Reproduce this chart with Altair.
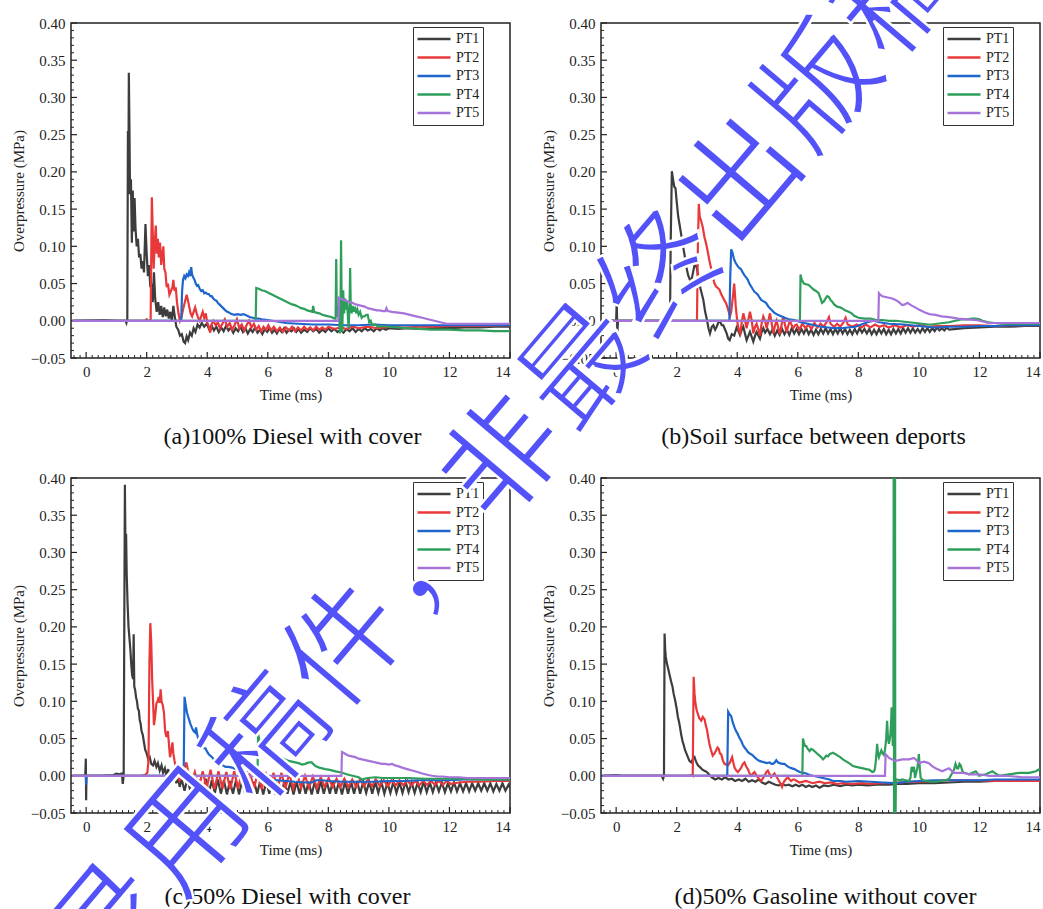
import altair as alt
import pandas as pd

# Sensor names and line colours
SERIES = ["PT1", "PT2", "PT3", "PT4", "PT5"]
COLORS = ["#3d3d3d", "#e8383a", "#1f66cc", "#2e9e5b", "#a673d9"]

# Axis tick values
X_TICKS = [0, 2, 4, 6, 8, 10, 12, 14]
Y_TICKS = [-0.05, 0.0, 0.05, 0.10, 0.15, 0.20, 0.25, 0.30, 0.35, 0.40]
X_MINOR = [round(-0.4 + 0.2 * k, 2) for k in range(73) if round(-0.4 + 0.2 * k, 2) not in X_TICKS]
Y_MINOR = [round(-0.05 + 0.01 * k, 2) for k in range(46) if k % 5 != 0]

TITLES = [
    "(a)100% Diesel with cover",
    "(b)Soil surface between deports",
    "(c)50% Diesel with cover",
    "(d)50% Gasoline without cover",
]

# ---------------- (a) 100% diesel with cover: (time ms, overpressure MPa)
A_PT1 = [(-0.45, 0.0), (0.6, 0.001), (1.0, 0.0), (1.30, 0.0), (1.33, -0.003), (1.36, 0.002), (1.38, 0.255),
         (1.395, 0.17), (1.41, 0.333), (1.43, 0.26), (1.45, 0.17), (1.48, 0.19), (1.51, 0.105), (1.54, 0.175),
         (1.57, 0.12), (1.60, 0.165), (1.63, 0.125), (1.67, 0.10), (1.71, 0.11), (1.75, 0.085), (1.79, 0.09),
         (1.83, 0.07), (1.87, 0.08), (1.91, 0.065), (1.96, 0.13), (2.00, 0.09), (2.04, 0.06), (2.08, 0.075),
         (2.12, 0.045), (2.16, 0.05), (2.20, 0.025), (2.24, 0.065), (2.28, 0.03), (2.33, 0.012), (2.38, 0.025),
         (2.43, 0.008), (2.48, 0.02), (2.53, 0.005), (2.58, 0.018), (2.63, 0.006), (2.68, 0.015), (2.73, 0.003),
         (2.78, 0.012), (2.83, 0.0), (2.88, 0.02), (2.93, 0.005), (2.98, -0.008), (3.04, -0.012), (3.10, -0.02),
         (3.16, -0.018), (3.22, -0.028), (3.27, -0.03), (3.32, -0.021), (3.37, -0.026), (3.43, -0.016),
         (3.49, -0.02), (3.55, -0.01), (3.61, -0.015), (3.68, -0.005), (3.75, -0.009), (3.82, -0.003),
         (3.90, -0.008), (3.98, -0.004), (4.06, -0.011), (4.14, -0.006), (4.22, -0.013), (4.30, -0.008),
         (4.38, -0.015), (4.46, -0.009), (4.54, -0.014), (4.62, -0.007), (4.70, -0.013), (4.78, -0.009),
         (4.86, -0.016), (4.94, -0.01), (5.02, -0.014), (5.10, -0.008), (5.18, -0.015), (5.26, -0.01),
         (5.34, -0.017), (5.42, -0.011), (5.50, -0.015), (5.58, -0.009), (5.66, -0.016), (5.74, -0.012),
         (5.82, -0.018), (5.90, -0.011), (5.98, -0.015), (6.06, -0.01), (6.14, -0.016), (6.22, -0.012),
         (6.30, -0.017), (6.38, -0.011), (6.46, -0.015), (6.54, -0.01), (6.62, -0.016), (6.70, -0.012),
         (6.78, -0.014), (6.86, -0.01), (6.94, -0.015), (7.02, -0.011), (7.10, -0.016), (7.20, -0.012),
         (7.30, -0.015), (7.40, -0.01), (7.50, -0.014), (7.60, -0.011), (7.70, -0.016), (7.80, -0.012),
         (7.90, -0.015), (8.00, -0.01), (8.10, -0.014), (8.20, -0.011), (8.30, -0.015), (8.40, -0.012),
         (8.50, -0.016), (8.60, -0.011), (8.70, -0.014), (8.80, -0.01), (8.90, -0.015), (9.00, -0.011),
         (9.10, -0.014), (9.20, -0.01), (9.30, -0.013), (9.40, -0.011), (9.50, -0.014), (9.60, -0.01),
         (9.70, -0.013), (9.80, -0.01), (9.90, -0.012), (10.0, -0.01), (10.3, -0.011), (10.6, -0.01),
         (11.0, -0.011), (11.5, -0.01), (12.0, -0.01), (12.5, -0.009), (13.0, -0.009), (13.5, -0.008),
         (14.0, -0.008)]
A_PT2 = [(-0.45, 0.0), (1.0, 0.0), (1.95, 0.0), (2.0, 0.002), (2.05, 0.0), (2.13, 0.0), (2.17, 0.166), (2.20, 0.12),
         (2.23, 0.07), (2.26, 0.10), (2.30, 0.128), (2.33, 0.09), (2.37, 0.11), (2.40, 0.085), (2.44, 0.105),
         (2.48, 0.075), (2.52, 0.09), (2.55, 0.10), (2.58, 0.07), (2.62, 0.065), (2.66, 0.045), (2.70, 0.05),
         (2.75, 0.035), (2.80, 0.04), (2.85, 0.045), (2.88, 0.055), (2.92, 0.04), (2.96, 0.045), (3.00, 0.025),
         (3.05, 0.01), (3.10, 0.0), (3.15, 0.005), (3.20, 0.015), (3.26, 0.025), (3.32, 0.035), (3.36, 0.028),
         (3.40, 0.02), (3.45, 0.01), (3.50, 0.006), (3.55, 0.012), (3.60, 0.018), (3.65, 0.01), (3.70, 0.004),
         (3.75, 0.0), (3.80, 0.006), (3.85, 0.012), (3.90, 0.004), (3.95, 0.01), (4.00, -0.002), (4.05, -0.008),
         (4.10, -0.016), (4.15, -0.004), (4.20, 0.0), (4.28, -0.006), (4.35, -0.002), (4.42, -0.01),
         (4.50, -0.004), (4.58, 0.002), (4.66, -0.008), (4.74, -0.003), (4.82, -0.012), (4.90, -0.006),
         (4.98, 0.002), (5.06, -0.01), (5.14, -0.005), (5.22, -0.013), (5.30, -0.006), (5.38, 0.0),
         (5.46, -0.009), (5.54, -0.004), (5.62, -0.012), (5.70, -0.007), (5.78, -0.014), (5.86, -0.008),
         (5.94, -0.012), (6.02, -0.006), (6.10, -0.013), (6.20, -0.008), (6.30, -0.014), (6.40, -0.009),
         (6.50, -0.015), (6.60, -0.009), (6.70, -0.013), (6.80, -0.008), (6.90, -0.014), (7.00, -0.009),
         (7.10, -0.013), (7.20, -0.008), (7.30, -0.012), (7.40, -0.009), (7.50, -0.013), (7.60, -0.008),
         (7.70, -0.012), (7.80, -0.009), (7.90, -0.012), (8.00, -0.008), (8.20, -0.011), (8.40, -0.009),
         (8.60, -0.011), (8.80, -0.008), (9.00, -0.01), (9.30, -0.008), (9.60, -0.01), (10.0, -0.008),
         (10.5, -0.009), (11.0, -0.008), (11.5, -0.008), (12.0, -0.007), (13.0, -0.007), (14.0, -0.006)]
A_PT3 = [(-0.45, 0.0), (3.0, 0.0), (3.14, 0.0), (3.17, 0.04), (3.20, 0.055), (3.24, 0.06), (3.28, 0.057),
         (3.32, 0.062), (3.36, 0.06), (3.40, 0.065), (3.44, 0.06), (3.47, 0.072), (3.50, 0.062), (3.54, 0.058),
         (3.58, 0.055), (3.62, 0.05), (3.66, 0.047), (3.70, 0.048), (3.75, 0.043), (3.80, 0.04), (3.85, 0.041),
         (3.90, 0.037), (3.95, 0.038), (4.00, 0.036), (4.05, 0.036), (4.10, 0.033), (4.15, 0.033), (4.20, 0.03),
         (4.25, 0.028), (4.30, 0.027), (4.35, 0.024), (4.40, 0.022), (4.45, 0.02), (4.50, 0.018), (4.55, 0.016),
         (4.60, 0.014), (4.66, 0.012), (4.72, 0.011), (4.80, 0.009), (4.90, 0.008), (5.00, 0.009),
         (5.10, 0.008), (5.20, 0.009), (5.30, 0.007), (5.40, 0.005), (5.50, 0.004), (5.60, 0.003),
         (5.70, 0.003), (5.80, 0.002), (6.00, 0.001), (6.30, -0.001), (6.60, -0.003), (7.00, -0.004),
         (7.50, -0.005), (8.00, -0.005), (8.50, -0.006), (9.00, -0.006), (9.50, -0.005), (10.0, -0.006),
         (11.0, -0.006), (12.0, -0.006), (13.0, -0.006), (14.0, -0.006)]
A_PT4 = [(-0.45, 0.0), (5.0, 0.0), (5.60, 0.0), (5.62, 0.044), (5.70, 0.043), (5.80, 0.041), (5.90, 0.04),
         (6.00, 0.038), (6.10, 0.036), (6.20, 0.034), (6.30, 0.032), (6.40, 0.03), (6.50, 0.028), (6.60, 0.026),
         (6.70, 0.024), (6.80, 0.022), (6.90, 0.021), (7.00, 0.019), (7.10, 0.017), (7.20, 0.016), (7.30, 0.014),
         (7.40, 0.013), (7.47, 0.012), (7.50, 0.02), (7.53, 0.012), (7.60, 0.011), (7.70, 0.01), (7.80, 0.008),
         (7.90, 0.007), (8.00, 0.006), (8.10, 0.005), (8.20, 0.003), (8.24, 0.003), (8.26, 0.083), (8.28, 0.01),
         (8.30, 0.005), (8.33, 0.02), (8.36, 0.01), (8.38, -0.017), (8.40, 0.003), (8.42, 0.108), (8.44, 0.02),
         (8.46, -0.015), (8.49, 0.041), (8.52, 0.01), (8.55, 0.03), (8.58, 0.015), (8.61, 0.025), (8.64, 0.01),
         (8.67, -0.01), (8.70, 0.02), (8.72, 0.071), (8.74, 0.02), (8.77, 0.01), (8.80, 0.02), (8.84, 0.012),
         (8.88, 0.019), (8.92, 0.01), (8.96, 0.015), (9.00, 0.008), (9.05, 0.012), (9.10, 0.004), (9.15, 0.006),
         (9.20, 0.006), (9.25, 0.008), (9.30, 0.008), (9.35, -0.002), (9.40, 0.0), (9.45, -0.006),
         (9.55, -0.005), (9.65, -0.008), (9.80, -0.007), (10.0, -0.008), (10.3, -0.009), (11.0, -0.011),
         (11.4, -0.012), (12.0, -0.012), (12.5, -0.013), (13.0, -0.013), (13.5, -0.014), (14.0, -0.014)]
A_PT5 = [(-0.45, 0.0), (8.33, 0.0), (8.35, 0.031), (8.40, 0.03), (8.50, 0.028), (8.60, 0.027), (8.70, 0.025),
         (8.80, 0.024), (8.90, 0.022), (9.00, 0.021), (9.10, 0.02), (9.20, 0.019), (9.30, 0.017), (9.40, 0.016),
         (9.50, 0.015), (9.60, 0.014), (9.70, 0.014), (9.80, 0.013), (9.88, 0.013), (9.92, 0.017),
         (9.96, 0.013), (10.1, 0.012), (10.3, 0.011), (10.5, 0.01), (10.7, 0.008), (10.9, 0.006), (11.1, 0.004),
         (11.3, 0.002), (11.5, 0.0), (11.7, -0.002), (11.9, -0.004), (12.2, -0.004), (12.6, -0.004),
         (13.0, -0.004), (13.5, -0.004), (14.0, -0.004)]

# ---------------- (b) soil surface between deports
B_PT1 = [(-0.45, 0.0), (0.0, 0.0), (0.02, 0.026), (0.04, -0.018), (0.06, 0.0), (0.5, 0.0), (1.0, 0.0),
         (1.5, 0.0), (1.78, 0.0), (1.80, 0.1), (1.84, 0.201), (1.88, 0.19), (1.92, 0.18), (1.96, 0.178),
         (2.00, 0.16), (2.05, 0.14), (2.10, 0.128), (2.16, 0.113), (2.22, 0.098), (2.27, 0.086), (2.32, 0.072),
         (2.38, 0.061), (2.44, 0.055), (2.49, 0.055), (2.54, 0.065), (2.60, 0.077), (2.66, 0.072),
         (2.72, 0.058), (2.77, 0.046), (2.83, 0.036), (2.88, 0.028), (2.94, 0.012), (2.99, 0.003),
         (3.05, -0.01), (3.10, -0.017), (3.16, -0.008), (3.21, -0.006), (3.27, -0.012), (3.32, -0.008),
         (3.38, -0.002), (3.43, -0.001), (3.49, -0.006), (3.54, -0.006), (3.60, -0.012), (3.65, -0.017),
         (3.70, -0.024), (3.75, -0.026), (3.82, -0.018), (3.90, -0.02), (3.98, -0.009), (4.04, -0.014),
         (4.09, -0.019), (4.15, -0.012), (4.20, -0.008), (4.26, -0.018), (4.31, -0.026), (4.37, -0.02),
         (4.42, -0.015), (4.48, -0.022), (4.53, -0.028), (4.59, -0.02), (4.64, -0.015), (4.70, -0.02),
         (4.75, -0.024), (4.80, -0.016), (4.86, -0.01), (4.92, -0.016), (5.00, -0.011), (5.08, -0.018),
         (5.16, -0.012), (5.24, -0.02), (5.32, -0.013), (5.40, -0.019), (5.48, -0.011), (5.56, -0.018),
         (5.64, -0.012), (5.72, -0.019), (5.80, -0.01), (5.88, -0.017), (5.96, -0.011), (6.04, -0.018),
         (6.12, -0.011), (6.20, -0.017), (6.28, -0.01), (6.36, -0.018), (6.44, -0.012), (6.52, -0.019),
         (6.60, -0.012), (6.68, -0.018), (6.76, -0.011), (6.84, -0.017), (6.92, -0.01), (7.00, -0.017),
         (7.08, -0.011), (7.16, -0.018), (7.24, -0.011), (7.32, -0.017), (7.40, -0.01), (7.48, -0.017),
         (7.56, -0.011), (7.64, -0.018), (7.72, -0.012), (7.80, -0.018), (7.88, -0.011), (7.96, -0.017),
         (8.04, -0.01), (8.12, -0.016), (8.20, -0.011), (8.28, -0.017), (8.36, -0.011), (8.44, -0.018),
         (8.52, -0.012), (8.60, -0.018), (8.68, -0.011), (8.76, -0.017), (8.84, -0.011), (8.92, -0.018),
         (9.00, -0.012), (9.08, -0.018), (9.16, -0.011), (9.24, -0.017), (9.32, -0.011), (9.40, -0.017),
         (9.48, -0.01), (9.56, -0.016), (9.64, -0.01), (9.72, -0.016), (9.80, -0.01), (9.88, -0.016),
         (9.96, -0.011), (10.04, -0.016), (10.12, -0.01), (10.20, -0.015), (10.28, -0.01), (10.36, -0.015),
         (10.44, -0.01), (10.52, -0.014), (10.60, -0.009), (10.68, -0.013), (10.76, -0.01), (10.84, -0.013),
         (10.92, -0.009), (11.0, -0.012), (11.5, -0.01), (12.0, -0.009), (12.5, -0.008), (13.0, -0.008),
         (13.5, -0.007), (14.0, -0.007)]
B_PT2 = [(-0.45, 0.0), (1.0, 0.0), (2.0, 0.0), (2.64, 0.0), (2.67, 0.002), (2.70, 0.1), (2.73, 0.157),
         (2.76, 0.14), (2.80, 0.135), (2.86, 0.126), (2.92, 0.112), (2.97, 0.104), (3.03, 0.092), (3.08, 0.081),
         (3.14, 0.07), (3.19, 0.059), (3.25, 0.05), (3.30, 0.046), (3.36, 0.044), (3.41, 0.042), (3.47, 0.036),
         (3.52, 0.032), (3.58, 0.027), (3.63, 0.024), (3.70, 0.015), (3.76, 0.006), (3.80, 0.012), (3.85, 0.03),
         (3.90, 0.05), (3.95, 0.02), (4.00, -0.001), (4.05, -0.012), (4.10, -0.017), (4.15, -0.002),
         (4.20, 0.01), (4.26, 0.0), (4.31, -0.01), (4.37, 0.002), (4.42, 0.012), (4.48, 0.0), (4.53, -0.017),
         (4.59, -0.008), (4.64, -0.004), (4.70, -0.012), (4.75, -0.02), (4.80, -0.005), (4.86, 0.006),
         (4.92, 0.0), (4.97, -0.01), (5.03, 0.0), (5.08, 0.01), (5.14, -0.004), (5.19, -0.017), (5.25, -0.006),
         (5.30, 0.0), (5.36, -0.01), (5.41, -0.018), (5.47, -0.004), (5.52, 0.006), (5.58, -0.006),
         (5.63, -0.015), (5.69, -0.006), (5.74, 0.0), (5.80, -0.006), (5.85, -0.01), (5.91, -0.006),
         (5.96, -0.005), (6.05, -0.012), (6.15, -0.004), (6.25, -0.01), (6.35, -0.005), (6.45, -0.011),
         (6.55, -0.003), (6.65, -0.009), (6.75, -0.004), (6.85, -0.008), (6.95, -0.002), (7.03, 0.005),
         (7.08, -0.004), (7.20, -0.008), (7.30, -0.004), (7.40, -0.008), (7.50, -0.003), (7.58, 0.004),
         (7.65, -0.005), (7.80, -0.008), (7.95, -0.005), (8.10, -0.009), (8.25, -0.005), (8.40, -0.009),
         (8.55, -0.005), (8.70, -0.008), (8.85, -0.006), (9.00, -0.009), (9.20, -0.006), (9.40, -0.009),
         (9.60, -0.006), (9.80, -0.008), (10.0, -0.006), (10.3, -0.008), (10.6, -0.007), (11.0, -0.007),
         (11.5, -0.006), (12.0, -0.006), (12.5, -0.007), (13.0, -0.006), (14.0, -0.006)]
B_PT3 = [(-0.45, 0.0), (2.0, 0.0), (3.74, 0.0), (3.77, 0.06), (3.80, 0.096), (3.84, 0.092), (3.88, 0.085),
         (3.91, 0.081), (3.96, 0.077), (4.02, 0.073), (4.07, 0.071), (4.13, 0.069), (4.18, 0.065), (4.24, 0.061),
         (4.30, 0.058), (4.35, 0.055), (4.40, 0.05), (4.46, 0.046), (4.52, 0.042), (4.57, 0.039), (4.63, 0.037),
         (4.68, 0.035), (4.74, 0.031), (4.79, 0.028), (4.87, 0.026), (4.95, 0.024), (5.03, 0.019),
         (5.12, 0.015), (5.22, 0.011), (5.34, 0.008), (5.45, 0.006), (5.56, 0.004), (5.70, 0.002),
         (5.89, 0.001), (6.10, -0.002), (6.33, -0.004), (6.55, -0.006), (6.77, -0.008), (7.00, -0.009),
         (7.21, -0.01), (7.45, -0.01), (7.65, -0.009), (7.90, -0.008), (8.10, -0.005), (8.30, -0.002),
         (8.50, 0.0), (8.70, -0.002), (9.00, -0.004), (9.50, -0.005), (10.0, -0.007), (10.5, -0.009),
         (11.0, -0.008), (11.5, -0.008), (12.0, -0.007), (12.5, -0.007), (13.0, -0.006), (14.0, -0.006)]
B_PT4 = [(-0.45, 0.0), (3.0, 0.0), (6.07, 0.0), (6.09, 0.062), (6.13, 0.055), (6.20, 0.05), (6.28, 0.049),
         (6.36, 0.048), (6.44, 0.045), (6.52, 0.042), (6.60, 0.04), (6.69, 0.037), (6.75, 0.03), (6.80, 0.024),
         (6.86, 0.026), (6.92, 0.03), (6.97, 0.033), (7.02, 0.032), (7.08, 0.028), (7.13, 0.026), (7.20, 0.022),
         (7.30, 0.019), (7.40, 0.018), (7.46, 0.017), (7.56, 0.014), (7.68, 0.012), (7.78, 0.01), (7.85, 0.007),
         (7.95, 0.005), (8.01, 0.004), (8.20, 0.003), (8.40, 0.003), (8.60, 0.001), (8.80, 0.001), (9.00, 0.0),
         (9.23, 0.0), (9.45, -0.001), (9.67, -0.002), (9.90, -0.003), (10.11, -0.004), (10.30, -0.005),
         (10.44, -0.005), (10.60, -0.004), (10.80, -0.003), (11.00, -0.002), (11.20, 0.0), (11.44, 0.002),
         (11.60, 0.002), (11.75, 0.003), (11.88, 0.003), (12.00, 0.002), (12.10, 0.0), (12.30, -0.002),
         (12.50, -0.003), (12.80, -0.004), (13.2, -0.004), (13.6, -0.004), (14.0, -0.004)]
B_PT5 = [(-0.45, 0.0), (4.0, 0.0), (8.66, 0.0), (8.68, 0.037), (8.72, 0.035), (8.79, 0.033), (8.90, 0.032),
         (9.01, 0.031), (9.12, 0.03), (9.23, 0.028), (9.34, 0.025), (9.45, 0.021), (9.54, 0.022), (9.62, 0.024),
         (9.70, 0.022), (9.78, 0.02), (9.88, 0.018), (10.0, 0.015), (10.1, 0.013), (10.2, 0.011), (10.35, 0.009),
         (10.55, 0.008), (10.75, 0.006), (11.0, 0.005), (11.3, 0.003), (11.6, 0.002), (11.9, 0.001),
         (12.1, -0.001), (12.3, -0.003), (12.8, -0.003), (13.4, -0.003), (14.0, -0.003)]

# ---------------- (c) 50% diesel with cover
C_PT1 = [(-0.45, 0.0), (-0.1, 0.0), (-0.03, 0.001), (-0.01, 0.023), (0.0, -0.033), (0.01, 0.0), (0.05, 0.0),
         (0.5, 0.0), (0.9, 0.001), (1.0, 0.003), (1.1, 0.002), (1.18, 0.003), (1.21, -0.011), (1.24, 0.0),
         (1.26, 0.2), (1.28, 0.391), (1.30, 0.30), (1.32, 0.325), (1.34, 0.27), (1.37, 0.23), (1.40, 0.2),
         (1.43, 0.185), (1.46, 0.17), (1.49, 0.15), (1.52, 0.135), (1.55, 0.13), (1.57, 0.19), (1.59, 0.12),
         (1.62, 0.115), (1.65, 0.105), (1.68, 0.1), (1.71, 0.09), (1.74, 0.088), (1.77, 0.075), (1.80, 0.07),
         (1.83, 0.06), (1.87, 0.055), (1.91, 0.045), (1.95, 0.035), (2.00, 0.03), (2.05, 0.022), (2.10, 0.025),
         (2.15, 0.016), (2.21, 0.014), (2.26, 0.02), (2.32, 0.012), (2.37, 0.017), (2.43, 0.007), (2.49, 0.014),
         (2.54, 0.004), (2.60, 0.01), (2.65, 0.0), (2.71, 0.009), (2.76, -0.002), (2.82, 0.004), (2.87, -0.008),
         (2.93, 0.003), (2.98, -0.01), (3.04, -0.002), (3.09, -0.015), (3.15, -0.004), (3.25, -0.02),
         (3.35, -0.003), (3.45, -0.022), (3.55, -0.004), (3.65, -0.023), (3.75, -0.005), (3.85, -0.022),
         (3.95, -0.004), (4.05, -0.024), (4.15, -0.006), (4.25, -0.023), (4.35, -0.005), (4.45, -0.024),
         (4.55, -0.006), (4.65, -0.025), (4.75, -0.007), (4.85, -0.024), (4.95, -0.006), (5.05, -0.025),
         (5.15, -0.007), (5.25, -0.024), (5.35, -0.006), (5.45, -0.025), (5.55, -0.008), (5.65, -0.024),
         (5.75, -0.007), (5.85, -0.025), (5.95, -0.008), (6.05, -0.024), (6.15, -0.007), (6.25, -0.025),
         (6.35, -0.008), (6.45, -0.024), (6.55, -0.007), (6.65, -0.024), (6.75, -0.008), (6.85, -0.025),
         (6.95, -0.008), (7.05, -0.024), (7.15, -0.007), (7.25, -0.024), (7.35, -0.008), (7.45, -0.025),
         (7.55, -0.008), (7.65, -0.024), (7.75, -0.007), (7.85, -0.024), (7.95, -0.008), (8.05, -0.024),
         (8.15, -0.007), (8.25, -0.024), (8.35, -0.008), (8.45, -0.025), (8.55, -0.008), (8.65, -0.024),
         (8.75, -0.008), (8.85, -0.024), (8.95, -0.007), (9.05, -0.024), (9.15, -0.008), (9.25, -0.023),
         (9.35, -0.008), (9.45, -0.024), (9.55, -0.008), (9.65, -0.023), (9.75, -0.008), (9.85, -0.024),
         (9.95, -0.009), (10.05, -0.023), (10.15, -0.008), (10.25, -0.023), (10.35, -0.009), (10.45, -0.023),
         (10.55, -0.008), (10.65, -0.022), (10.75, -0.009), (10.85, -0.023), (10.95, -0.009), (11.05, -0.022),
         (11.15, -0.008), (11.25, -0.022), (11.35, -0.009), (11.45, -0.022), (11.55, -0.009), (11.65, -0.021),
         (11.75, -0.009), (11.85, -0.022), (11.95, -0.01), (12.05, -0.021), (12.15, -0.009), (12.25, -0.021),
         (12.35, -0.01), (12.45, -0.021), (12.55, -0.01), (12.65, -0.021), (12.75, -0.01), (12.85, -0.02),
         (12.95, -0.01), (13.05, -0.02), (13.15, -0.01), (13.25, -0.02), (13.35, -0.01), (13.45, -0.021),
         (13.55, -0.011), (13.65, -0.02), (13.75, -0.01), (13.85, -0.02), (13.95, -0.012), (14.0, -0.016)]
C_PT2 = [(-0.45, 0.0), (1.0, 0.0), (1.8, 0.0), (1.95, 0.001), (2.02, 0.004), (2.06, 0.02), (2.09, 0.15),
         (2.12, 0.205), (2.15, 0.18), (2.18, 0.13), (2.21, 0.1), (2.24, 0.068), (2.28, 0.08), (2.32, 0.097),
         (2.36, 0.1), (2.40, 0.106), (2.43, 0.098), (2.46, 0.116), (2.49, 0.1), (2.53, 0.095), (2.57, 0.085),
         (2.61, 0.06), (2.65, 0.052), (2.70, 0.06), (2.74, 0.04), (2.77, 0.025), (2.81, 0.033), (2.85, 0.045),
         (2.88, 0.03), (2.92, 0.02), (2.96, 0.012), (3.00, 0.008), (3.05, -0.002), (3.09, -0.006),
         (3.15, 0.002), (3.20, 0.007), (3.25, 0.01), (3.31, 0.018), (3.36, 0.008), (3.41, 0.0), (3.46, -0.012),
         (3.59, 0.005), (3.72, -0.016), (3.85, 0.006), (3.98, -0.017), (4.11, 0.008), (4.24, -0.018),
         (4.37, 0.006), (4.50, -0.017), (4.63, 0.005), (4.76, -0.018), (4.89, 0.006), (5.02, -0.017),
         (5.15, 0.006), (5.28, -0.018), (5.41, 0.005), (5.54, -0.017), (5.67, 0.004), (5.80, -0.018),
         (5.93, 0.005), (6.06, -0.017), (6.19, 0.004), (6.32, -0.018), (6.45, 0.004), (6.58, -0.017),
         (6.71, 0.003), (6.84, -0.017), (6.97, 0.002), (7.10, -0.016), (7.23, 0.0), (7.36, -0.016),
         (7.49, -0.001), (7.62, -0.016), (7.75, -0.002), (7.88, -0.015), (8.01, -0.003), (8.14, -0.015),
         (8.27, -0.004), (8.40, -0.015), (8.53, -0.004), (8.66, -0.015), (8.79, -0.005), (8.92, -0.015),
         (9.05, -0.005), (9.18, -0.014), (9.31, -0.005), (9.44, -0.014), (9.57, -0.005), (9.70, -0.014),
         (9.83, -0.006), (9.96, -0.014), (10.09, -0.006), (10.22, -0.013), (10.35, -0.006), (10.48, -0.013),
         (10.61, -0.006), (10.74, -0.013), (10.87, -0.007), (11.0, -0.013), (11.13, -0.007), (11.26, -0.012),
         (11.39, -0.007), (11.52, -0.012), (11.65, -0.007), (11.78, -0.012), (11.91, -0.007), (12.04, -0.011),
         (12.3, -0.009), (12.6, -0.008), (13.0, -0.008), (13.5, -0.007), (14.0, -0.007)]
C_PT3 = [(-0.45, 0.0), (-0.01, 0.0), (0.0, -0.012), (0.01, 0.0), (1.0, 0.0), (3.22, 0.0), (3.25, 0.106),
         (3.29, 0.095), (3.33, 0.085), (3.38, 0.078), (3.44, 0.07), (3.50, 0.064), (3.55, 0.06), (3.60, 0.058),
         (3.63, 0.065), (3.67, 0.055), (3.72, 0.047), (3.78, 0.042), (3.83, 0.038), (3.89, 0.037), (3.94, 0.037),
         (4.00, 0.032), (4.05, 0.029), (4.10, 0.027), (4.16, 0.025), (4.22, 0.022), (4.27, 0.02), (4.35, 0.018),
         (4.44, 0.016), (4.52, 0.014), (4.60, 0.012), (4.70, 0.012), (4.82, 0.011), (4.93, 0.009),
         (5.04, 0.007), (5.15, 0.006), (5.26, 0.006), (5.37, 0.007), (5.48, 0.007), (5.55, 0.004), (5.62, 0.0),
         (5.70, -0.004), (5.80, -0.005), (6.0, -0.005), (6.3, -0.006), (6.6, -0.007), (6.9, -0.008),
         (7.2, -0.009), (7.46, -0.009), (7.6, -0.006), (7.8, -0.006), (8.0, -0.007), (8.5, -0.008),
         (9.0, -0.008), (9.5, -0.008), (10.0, -0.007), (10.5, -0.007), (11.0, -0.006), (11.5, -0.006),
         (12.0, -0.006), (12.5, -0.005), (13.0, -0.005), (13.5, -0.005), (14.0, -0.005)]
C_PT4 = [(-0.45, 0.0), (3.0, 0.0), (5.66, 0.0), (5.68, 0.056), (5.72, 0.048), (5.76, 0.04), (5.84, 0.036),
         (5.92, 0.034), (6.00, 0.034), (6.08, 0.031), (6.16, 0.029), (6.25, 0.027), (6.36, 0.025),
         (6.47, 0.024), (6.58, 0.022), (6.69, 0.02), (6.80, 0.019), (6.91, 0.018), (7.02, 0.017), (7.13, 0.015),
         (7.24, 0.016), (7.35, 0.018), (7.45, 0.018), (7.57, 0.013), (7.7, 0.011), (7.9, 0.009), (8.05, 0.008),
         (8.24, 0.006), (8.46, 0.004), (8.6, 0.002), (8.8, 0.0), (9.0, -0.002), (9.1, -0.005), (9.3, -0.003),
         (9.56, -0.002), (9.8, -0.003), (10.2, -0.003), (10.66, -0.003), (11.2, -0.004), (11.8, -0.004),
         (12.4, -0.004), (12.9, -0.005), (13.5, -0.005), (14.0, -0.005)]
C_PT5 = [(-0.45, 0.0), (4.0, 0.0), (8.43, 0.0), (8.45, 0.032), (8.50, 0.031), (8.58, 0.029), (8.67, 0.027),
         (8.78, 0.026), (8.89, 0.025), (9.0, 0.023), (9.11, 0.022), (9.22, 0.021), (9.33, 0.02), (9.44, 0.019),
         (9.55, 0.018), (9.66, 0.017), (9.77, 0.016), (9.88, 0.016), (10.0, 0.015), (10.1, 0.016),
         (10.2, 0.014), (10.3, 0.013), (10.44, 0.011), (10.6, 0.009), (10.77, 0.007), (10.95, 0.005),
         (11.1, 0.003), (11.3, 0.001), (11.43, 0.0), (11.6, -0.001), (11.77, -0.001), (12.0, -0.002),
         (12.3, -0.002), (12.6, -0.003), (12.88, -0.003), (13.3, -0.003), (13.7, -0.003), (14.0, -0.003)]

# ---------------- (d) 50% gasoline without cover
D_PT1 = [(-0.45, 0.0), (0.0, 0.001), (0.2, 0.0), (1.0, 0.0), (1.50, 0.0), (1.55, -0.004), (1.58, 0.0),
         (1.60, 0.191), (1.62, 0.17), (1.64, 0.16), (1.67, 0.152), (1.70, 0.147), (1.74, 0.14), (1.78, 0.133),
         (1.82, 0.126), (1.86, 0.12), (1.90, 0.11), (1.95, 0.101), (2.00, 0.09), (2.04, 0.079), (2.08, 0.072),
         (2.11, 0.065), (2.15, 0.055), (2.19, 0.047), (2.24, 0.04), (2.28, 0.034), (2.33, 0.029), (2.37, 0.025),
         (2.42, 0.02), (2.48, 0.018), (2.53, 0.022), (2.59, 0.025), (2.64, 0.019), (2.70, 0.014), (2.76, 0.012),
         (2.83, 0.009), (2.90, 0.007), (3.00, 0.005), (3.08, 0.001), (3.16, -0.002), (3.27, -0.005),
         (3.38, -0.003), (3.49, -0.005), (3.60, -0.002), (3.71, -0.005), (3.82, -0.004), (3.93, -0.007),
         (4.05, -0.005), (4.16, -0.007), (4.27, -0.004), (4.38, -0.008), (4.49, -0.006), (4.60, -0.008),
         (4.71, -0.005), (4.82, -0.009), (4.93, -0.011), (5.04, -0.008), (5.15, -0.01), (5.26, -0.012),
         (5.37, -0.013), (5.48, -0.011), (5.59, -0.013), (5.70, -0.012), (5.82, -0.014), (5.93, -0.012),
         (6.04, -0.014), (6.15, -0.012), (6.26, -0.015), (6.37, -0.013), (6.48, -0.015), (6.60, -0.013),
         (6.72, -0.016), (6.85, -0.013), (7.0, -0.014), (7.2, -0.012), (7.4, -0.014), (7.6, -0.012),
         (7.8, -0.013), (8.0, -0.012), (8.3, -0.013), (8.6, -0.012), (9.0, -0.012), (9.3, -0.011),
         (9.6, -0.011), (10.0, -0.01), (10.5, -0.01), (11.0, -0.009), (11.5, -0.008), (12.0, -0.008),
         (12.5, -0.007), (13.0, -0.007), (13.5, -0.006), (14.0, -0.006)]
D_PT2 = [(-0.45, 0.0), (1.0, 0.0), (2.4, 0.0), (2.50, 0.001), (2.53, 0.0), (2.56, 0.133), (2.59, 0.11),
         (2.62, 0.097), (2.66, 0.088), (2.70, 0.083), (2.75, 0.077), (2.81, 0.074), (2.86, 0.079), (2.92, 0.076),
         (2.96, 0.068), (3.00, 0.062), (3.04, 0.052), (3.08, 0.043), (3.13, 0.035), (3.19, 0.027), (3.25, 0.03),
         (3.30, 0.034), (3.35, 0.038), (3.39, 0.036), (3.43, 0.03), (3.47, 0.029), (3.53, 0.02), (3.58, 0.016),
         (3.64, 0.015), (3.69, 0.014), (3.76, 0.018), (3.83, 0.025), (3.88, 0.016), (3.91, 0.011),
         (3.97, 0.007), (4.02, 0.005), (4.08, 0.008), (4.13, 0.011), (4.19, 0.016), (4.24, 0.018),
         (4.30, 0.012), (4.35, 0.009), (4.41, 0.003), (4.46, 0.0), (4.52, 0.003), (4.57, 0.005), (4.63, 0.001),
         (4.68, -0.002), (4.74, -0.005), (4.79, -0.007), (4.85, -0.003), (4.90, 0.0), (4.96, 0.005),
         (5.01, 0.007), (5.07, 0.002), (5.12, -0.002), (5.18, 0.001), (5.23, 0.003), (5.29, -0.001),
         (5.34, -0.004), (5.41, -0.009), (5.48, -0.015), (5.52, -0.01), (5.56, -0.007), (5.62, -0.004),
         (5.67, -0.002), (5.73, -0.005), (5.78, -0.007), (5.84, -0.005), (5.89, -0.005), (6.05, -0.009),
         (6.27, -0.007), (6.49, -0.01), (6.71, -0.008), (6.9, -0.01), (7.1, -0.009), (7.3, -0.011),
         (7.5, -0.01), (7.8, -0.011), (8.1, -0.01), (8.4, -0.011), (8.7, -0.01), (9.0, -0.01), (9.3, -0.009),
         (9.7, -0.008), (10.0, -0.008), (10.5, -0.007), (11.0, -0.006), (11.5, -0.006), (12.0, -0.006),
         (12.5, -0.007), (13.0, -0.007), (13.5, -0.007), (14.0, -0.007)]
D_PT3 = [(-0.45, 0.0), (1.0, 0.0), (3.67, 0.0), (3.70, 0.086), (3.74, 0.083), (3.80, 0.08), (3.85, 0.072),
         (3.91, 0.065), (3.96, 0.06), (4.02, 0.056), (4.07, 0.051), (4.13, 0.047), (4.18, 0.042), (4.24, 0.038),
         (4.30, 0.035), (4.35, 0.032), (4.41, 0.03), (4.46, 0.029), (4.52, 0.027), (4.57, 0.025), (4.65, 0.022),
         (4.73, 0.02), (4.81, 0.019), (4.90, 0.018), (4.98, 0.017), (5.07, 0.018), (5.13, 0.016),
         (5.18, 0.016), (5.24, 0.018), (5.29, 0.021), (5.34, 0.018), (5.40, 0.017), (5.48, 0.016),
         (5.56, 0.016), (5.65, 0.013), (5.73, 0.011), (5.81, 0.01), (5.89, 0.009), (5.97, 0.007), (6.06, 0.005),
         (6.17, 0.004), (6.28, 0.003), (6.39, 0.001), (6.50, 0.0), (6.61, -0.001), (6.72, -0.002),
         (6.83, -0.003), (6.94, -0.004), (7.05, -0.005), (7.16, -0.007), (7.4, -0.007), (7.6, -0.008),
         (8.0, -0.007), (8.4, -0.008), (8.8, -0.009), (9.2, -0.01), (9.6, -0.008), (10.0, -0.007),
         (10.5, -0.006), (11.0, -0.006), (11.5, -0.006), (12.0, -0.006), (12.5, -0.005), (13.0, -0.005),
         (13.5, -0.005), (14.0, -0.005)]
D_PT4 = [(-0.45, 0.0), (1.0, 0.0), (6.15, 0.0), (6.17, 0.05), (6.20, 0.045), (6.24, 0.04), (6.28, 0.04),
         (6.33, 0.036), (6.39, 0.033), (6.44, 0.036), (6.50, 0.035), (6.55, 0.033), (6.61, 0.031),
         (6.66, 0.029), (6.72, 0.027), (6.77, 0.025), (6.83, 0.022), (6.88, 0.024), (6.94, 0.027),
         (7.00, 0.026), (7.05, 0.029), (7.10, 0.03), (7.16, 0.031), (7.20, 0.03), (7.25, 0.029), (7.32, 0.027),
         (7.40, 0.025), (7.49, 0.022), (7.57, 0.02), (7.65, 0.018), (7.73, 0.016), (7.82, 0.013),
         (7.93, 0.012), (8.04, 0.011), (8.15, 0.01), (8.26, 0.009), (8.37, 0.008), (8.46, 0.005),
         (8.52, 0.006), (8.55, 0.01), (8.57, 0.017), (8.60, 0.03), (8.62, 0.043), (8.65, 0.03), (8.68, 0.025),
         (8.72, 0.03), (8.76, 0.034), (8.80, 0.03), (8.84, 0.028), (8.88, 0.035), (8.92, 0.05), (8.95, 0.074),
         (8.98, 0.05), (9.01, 0.043), (9.04, 0.05), (9.06, 0.056), (9.08, 0.07), (9.10, 0.092), (9.12, 0.06),
         (9.14, 0.04), (9.16, 0.06), (9.17, 0.6), (9.18, -0.1), (9.19, 0.6), (9.20, -0.1), (9.21, 0.6),
         (9.22, -0.1), (9.24, -0.005),
         (9.29, -0.005), (9.37, -0.006), (9.45, -0.005), (9.56, -0.006), (9.67, -0.007), (9.72, -0.003),
         (9.76, 0.012), (9.80, 0.005), (9.84, 0.012), (9.87, -0.003), (9.91, 0.004), (9.95, 0.01),
         (10.0, 0.029), (10.03, 0.01), (10.06, -0.003), (10.14, -0.006), (10.22, -0.007), (10.38, -0.008),
         (10.55, -0.008), (10.72, -0.007), (10.88, -0.006), (11.0, -0.004), (11.05, 0.0), (11.12, 0.005),
         (11.16, 0.008), (11.21, 0.016), (11.26, 0.01), (11.30, 0.01), (11.34, 0.016), (11.38, 0.014),
         (11.44, 0.006), (11.49, 0.004), (11.58, 0.003), (11.66, 0.002), (11.77, 0.004), (11.88, 0.006),
         (11.94, 0.003), (11.99, 0.0), (12.1, 0.001), (12.21, 0.002), (12.32, 0.004), (12.43, 0.006),
         (12.54, 0.003), (12.65, 0.0), (12.8, 0.001), (12.98, 0.002), (13.15, 0.003), (13.31, 0.004),
         (13.48, 0.004), (13.64, 0.004), (13.75, 0.005), (13.86, 0.006), (13.95, 0.008), (14.0, 0.01)]
D_PT5 = [(-0.45, 0.0), (1.0, 0.0), (8.88, 0.0), (8.90, 0.029), (8.95, 0.027), (9.01, 0.024), (9.12, 0.022),
         (9.23, 0.02), (9.34, 0.021), (9.45, 0.022), (9.56, 0.022), (9.67, 0.022), (9.76, 0.023), (9.84, 0.024),
         (9.92, 0.021), (10.0, 0.017), (10.08, 0.018), (10.17, 0.019), (10.25, 0.018), (10.33, 0.017),
         (10.44, 0.013), (10.55, 0.01), (10.66, 0.008), (10.77, 0.006), (10.88, 0.008), (10.99, 0.01),
         (11.08, 0.007), (11.16, 0.004), (11.3, 0.004), (11.44, 0.004), (11.55, 0.003), (11.66, 0.002),
         (11.8, 0.002), (11.99, 0.002), (12.15, 0.001), (12.32, 0.0), (12.6, 0.0), (12.87, 0.0),
         (13.15, -0.001), (13.42, -0.002), (13.7, -0.002), (14.0, -0.002)]

# Overlay stamp text, drawn diagonally across the figure
STAMP = ["录", "用", "稿", "件", "，", "非", "最", "终", "出", "版", "稿"]

W, H = 439, 335
FONT = "Liberation Serif"
XS = alt.Scale(domain=[-0.5, 14], nice=False, zero=False)
YS = alt.Scale(domain=[-0.05, 0.40], nice=False, zero=False)
X_AXIS = alt.Axis(title="Time (ms)", values=X_TICKS, format="d")
Y_AXIS = alt.Axis(title="Overpressure (MPa)", values=Y_TICKS, format=".2f")


def to_frame(groups):
    rows = []
    for name, pairs in zip(SERIES, groups):
        for k, (t, p) in enumerate(pairs):
            rows.append({"series": name, "t": t, "p": p, "k": k})
    return pd.DataFrame(rows)


def panel(groups, title, cap_dx, cap_dy, extra=()):
    lines = alt.Chart(to_frame(groups)).mark_line(strokeWidth=2.2, clip=True).encode(
        x=alt.X("t:Q", scale=XS, axis=X_AXIS),
        y=alt.Y("p:Q", scale=YS, axis=Y_AXIS),
        color=alt.Color(
            "series:N",
            scale=alt.Scale(domain=SERIES, range=COLORS),
            legend=alt.Legend(
                title=None, orient="none", legendX=342, legendY=4,
                symbolType="stroke", symbolSize=1089, symbolStrokeWidth=2.5,
                clipHeight=18, rowPadding=0.5, labelOffset=4, padding=3,
                labelFont=FONT, labelFontSize=14, labelColor="#222",
                strokeColor="#333", fillColor="white",
            ),
        ),
        order="k:Q",
    )
    # inward major / minor tick marks along the bottom and left frame edges
    x_major = alt.Chart(pd.DataFrame({"t": X_TICKS})).mark_rule(color="#222", strokeWidth=1.2).encode(
        x=alt.X("t:Q", scale=XS, axis=X_AXIS), y=alt.value(H), y2=alt.value(H - 6))
    x_minor = alt.Chart(pd.DataFrame({"t": X_MINOR})).mark_rule(color="#222", strokeWidth=1).encode(
        x=alt.X("t:Q", scale=XS, axis=X_AXIS), y=alt.value(H), y2=alt.value(H - 3))
    y_major = alt.Chart(pd.DataFrame({"p": Y_TICKS})).mark_rule(color="#222", strokeWidth=1.2).encode(
        y=alt.Y("p:Q", scale=YS, axis=Y_AXIS), x=alt.value(0), x2=alt.value(6))
    y_minor = alt.Chart(pd.DataFrame({"p": Y_MINOR})).mark_rule(color="#222", strokeWidth=1).encode(
        y=alt.Y("p:Q", scale=YS, axis=Y_AXIS), x=alt.value(0), x2=alt.value(3))
    # panel caption below the x-axis title
    caption = alt.Chart(pd.DataFrame({"label": [title]})).mark_text(
        font=FONT, fontSize=24, color="#111", align="center", baseline="middle",
    ).encode(text="label:N", x=alt.value(W / 2 + cap_dx), y=alt.value(H + cap_dy))
    layers = [x_minor, x_major, y_minor, y_major, lines, caption, *extra]
    return alt.layer(*layers).properties(width=W, height=H)


# stamp glyph centres, relative to the top-left corner of panel (d)
sx0, sy0, sdx, sdy = 110 - 599, 927 - 478, 79, -93
stamp_df = pd.DataFrame({
    "ch": STAMP,
    "px": [sx0 + i * sdx for i in range(len(STAMP))],
    "py": [sy0 + i * sdy for i in range(len(STAMP))],
})
stamp = alt.Chart(stamp_df).mark_text(
    font="Noto Sans CJK SC", fontSize=118, angle=310.3, color="#5252f8",
    stroke="white", strokeWidth=2.5, align="center", baseline="middle",
).encode(
    x=alt.X("px:Q", scale=None),
    y=alt.Y("py:Q", scale=None),
    text="ch:N",
)

pa = panel([A_PT1, A_PT2, A_PT3, A_PT4, A_PT5], TITLES[0], 2, 79)
pb = panel([B_PT1, B_PT2, B_PT3, B_PT4, B_PT5], TITLES[1], -7, 79)
pc = panel([C_PT1, C_PT2, C_PT3, C_PT4, C_PT5], TITLES[2], -3, 84)
pdd = panel([D_PT1, D_PT2, D_PT3, D_PT4, D_PT5], TITLES[3], 5, 84, extra=(stamp,))

chart = alt.concat(
    pa, pb, pc, pdd, columns=2, spacing={"row": 120, "column": 91}, bounds="flush"
).resolve_scale(color="independent").properties(
    padding={"left": 10, "top": -87, "right": 0, "bottom": 0},
    background="white",
).configure_axis(
    labelFont=FONT, labelFontSize=15, labelColor="#222",
    titleFont=FONT, titleFontSize=15, titleFontWeight="normal", titleColor="#222",
    ticks=False, domain=False, grid=False, labelPadding=6,
).configure_axisX(titlePadding=8).configure_axisY(titlePadding=4).configure_view(
    stroke="#222", strokeWidth=1.5
)

chart.save("out.html", embed_options={"renderer": "svg", "actions": False})
